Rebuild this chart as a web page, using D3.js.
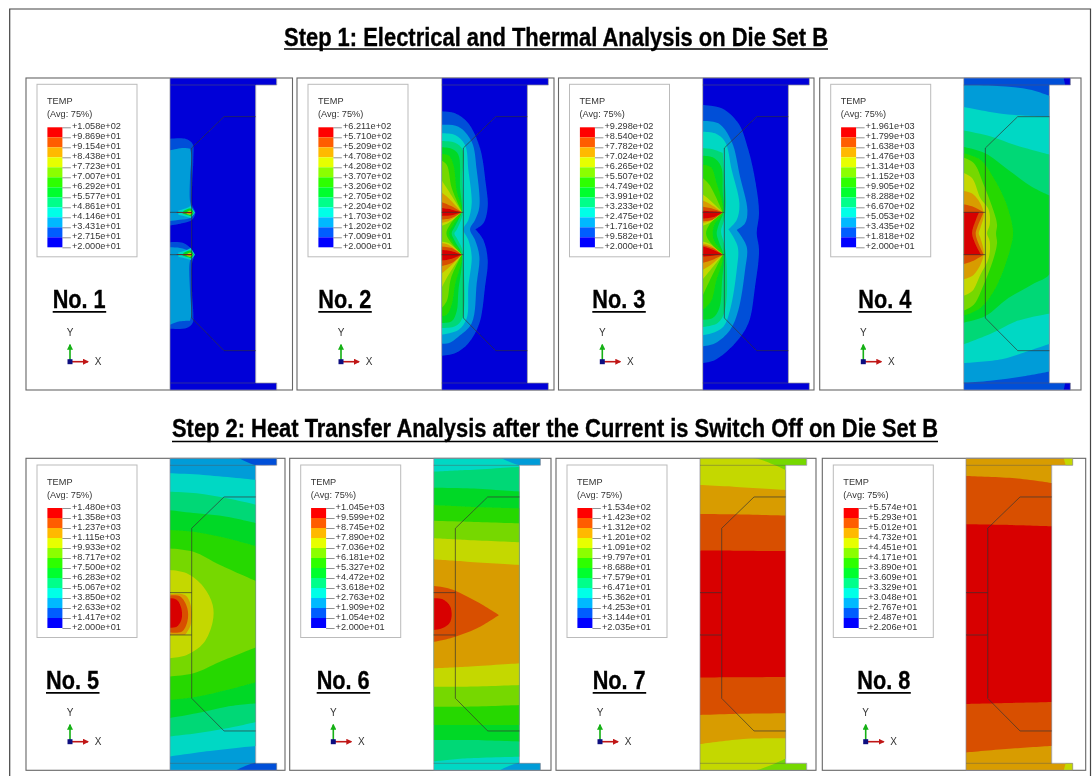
<!DOCTYPE html>
<html>
<head>
<meta charset="utf-8">
<script src="https://cdnjs.cloudflare.com/ajax/libs/d3/7.8.5/d3.min.js"></script>
<style>
	html, body { margin: 0; padding: 0; background: #fff; }
	svg { display: block; }
	text { font-family: "Liberation Sans", Arial, sans-serif; }
	.heavy { font-family: "Liberation Sans Narrow", "Liberation Sans", Arial, sans-serif; font-weight: bold; }
</style>
</head>
<body>
<div id="plot-ui"></div>
<script>
// contour colours, lowest band to highest band
let bandColors = ["#0000d8", "#0050d8", "#009cd8", "#00d8c4", "#00d876", "#00d827", "#27d800", "#76d800", "#c4d800", "#d89c00", "#d85000", "#d80000"];
let legendColors = ["#0000ff", "#005dff", "#00b9ff", "#00ffe7", "#00ff8b", "#00ff2e", "#2eff00", "#8bff00", "#e7ff00", "#ffb900", "#ff5d00", "#ff0000"];

let titles = ["Step 1: Electrical and Thermal Analysis on Die Set B", "Step 2: Heat Transfer Analysis after the Current is Switch Off on Die Set B"];
let panelNames = ["No. 1", "No. 2", "No. 3", "No. 4", "No. 5", "No. 6", "No. 7", "No. 8"];

// legend labels, top to bottom
let temps1 = ["+1.058e+02", "+9.869e+01", "+9.154e+01", "+8.438e+01", "+7.723e+01", "+7.007e+01", "+6.292e+01", "+5.577e+01", "+4.861e+01", "+4.146e+01", "+3.431e+01", "+2.715e+01", "+2.000e+01"];
let temps2 = ["+6.211e+02", "+5.710e+02", "+5.209e+02", "+4.708e+02", "+4.208e+02", "+3.707e+02", "+3.206e+02", "+2.705e+02", "+2.204e+02", "+1.703e+02", "+1.202e+02", "+7.009e+01", "+2.000e+01"];
let temps3 = ["+9.298e+02", "+8.540e+02", "+7.782e+02", "+7.024e+02", "+6.265e+02", "+5.507e+02", "+4.749e+02", "+3.991e+02", "+3.233e+02", "+2.475e+02", "+1.716e+02", "+9.582e+01", "+2.000e+01"];
let temps4 = ["+1.961e+03", "+1.799e+03", "+1.638e+03", "+1.476e+03", "+1.314e+03", "+1.152e+03", "+9.905e+02", "+8.288e+02", "+6.670e+02", "+5.053e+02", "+3.435e+02", "+1.818e+02", "+2.000e+01"];
let temps5 = ["+1.480e+03", "+1.358e+03", "+1.237e+03", "+1.115e+03", "+9.933e+02", "+8.717e+02", "+7.500e+02", "+6.283e+02", "+5.067e+02", "+3.850e+02", "+2.633e+02", "+1.417e+02", "+2.000e+01"];
let temps6 = ["+1.045e+03", "+9.599e+02", "+8.745e+02", "+7.890e+02", "+7.036e+02", "+6.181e+02", "+5.327e+02", "+4.472e+02", "+3.618e+02", "+2.763e+02", "+1.909e+02", "+1.054e+02", "+2.000e+01"];
let temps7 = ["+1.534e+02", "+1.423e+02", "+1.312e+02", "+1.201e+02", "+1.091e+02", "+9.797e+01", "+8.688e+01", "+7.579e+01", "+6.471e+01", "+5.362e+01", "+4.253e+01", "+3.144e+01", "+2.035e+01"];
let temps8 = ["+5.574e+01", "+5.293e+01", "+5.012e+01", "+4.732e+01", "+4.451e+01", "+4.171e+01", "+3.890e+01", "+3.609e+01", "+3.329e+01", "+3.048e+01", "+2.767e+01", "+2.487e+01", "+2.206e+01"];

// die section in model units: full strip, inner die edge, the two pad lines
let stripShape = [[0, 0], [320, 0], [320, 21], [257, 21], [257, 915], [320, 915], [320, 936], [0, 936]];
let dieEdge = [[257, 116], [162, 116], [65, 210], [65, 720], [162, 818], [257, 818]];
let padLevels = [403, 530];

// contours: [band, outline] painted from the base band upward
let contours1 = [
	[1, [[-5, 183], [48, 183], [68, 198], [70, 240], [66, 330], [66, 380], [76, 404], [66, 425], [40, 435], [-5, 443]]],
	[1, [[-5, 493], [40, 495], [66, 515], [73, 530], [66, 555], [66, 640], [70, 710], [68, 735], [50, 750], [-5, 752]]],
	[2, [[-5, 218], [40, 210], [60, 212], [64, 230], [60, 300], [60, 370], [66, 390], [72, 404], [60, 420], [30, 425], [-5, 430]]],
	[2, [[-5, 508], [30, 510], [60, 520], [70, 530], [60, 548], [60, 640], [64, 710], [60, 728], [30, 730], [-5, 742]]],
	[3, [[25, 398], [50, 390], [62, 384], [75, 404], [62, 420], [50, 416], [25, 410]]],
	[3, [[25, 524], [50, 516], [62, 510], [75, 530], [62, 546], [50, 542], [25, 536]]],
	[5, [[40, 399], [55, 392], [64, 392], [71, 404], [64, 416], [55, 412], [40, 408]]],
	[5, [[40, 525], [55, 518], [64, 518], [71, 530], [64, 542], [55, 538], [40, 534]]],
	[8, [[50, 402], [60, 398], [68, 404], [60, 410], [50, 407]]],
	[8, [[50, 528], [60, 524], [68, 530], [60, 536], [50, 533]]],
	[11, [[20, 403], [66, 402], [66, 406], [20, 405]]],
	[11, [[20, 529], [66, 528], [66, 532], [20, 531]]]
];
let contours2 = [
	[1, [[-5, 100], [40, 106], [80, 136], [115, 211], [132, 316], [138, 386], [125, 436], [101, 454], [125, 486], [138, 546], [130, 626], [113, 736], [80, 796], [40, 826], [-5, 834]]],
	[2, [[-5, 141], [50, 146], [90, 191], [105, 276], [113, 386], [100, 426], [85, 454], [100, 486], [113, 536], [105, 616], [90, 736], [50, 776], [20, 796], [-5, 796]]],
	[3, [[-5, 166], [40, 171], [70, 201], [80, 276], [90, 376], [80, 426], [65, 454], [80, 486], [90, 536], [80, 626], [75, 721], [50, 756], [-5, 771]]],
	[4, [[-5, 189], [40, 194], [63, 216], [62, 300], [64, 395], [60, 420], [45, 455], [38, 466], [45, 480], [60, 510], [64, 540], [62, 720], [40, 745], [-5, 750]]],
	[5, [[-5, 208], [30, 212], [50, 230], [55, 330], [60, 400], [40, 445], [30, 466], [40, 490], [60, 530], [50, 640], [45, 700], [30, 730], [-5, 735]]],
	[6, [[-5, 228], [20, 232], [35, 260], [45, 340], [60, 400], [35, 440], [22, 466], [35, 495], [60, 530], [40, 620], [30, 680], [15, 710], [-5, 715]]],
	[7, [[-5, 245], [15, 260], [30, 330], [60, 400], [25, 440], [14, 466], [25, 490], [60, 530], [28, 600], [15, 670], [-5, 695]]],
	[8, [[-5, 300], [15, 330], [60, 402], [20, 435], [-5, 445]]],
	[8, [[-5, 490], [20, 495], [60, 530], [15, 600], [-5, 640]]],
	[9, [[-5, 340], [20, 360], [60, 403], [20, 430], [-5, 435]]],
	[9, [[-5, 495], [20, 500], [60, 530], [20, 570], [-5, 590]]],
	[10, [[-5, 370], [30, 385], [60, 403], [30, 420], [-5, 425]]],
	[10, [[-5, 505], [30, 510], [60, 530], [30, 555], [-5, 565]]],
	[11, [[-5, 390], [30, 395], [58, 403], [30, 412], [-5, 414]]],
	[11, [[-5, 515], [30, 520], [58, 530], [30, 542], [-5, 548]]]
];
let contours3 = [
	[1, [[-5, 81], [57, 91], [107, 136], [137, 216], [159, 316], [169, 406], [162, 466], [169, 516], [157, 626], [137, 736], [97, 796], [37, 846], [-5, 856]]],
	[2, [[-5, 129], [47, 136], [87, 191], [112, 296], [134, 396], [127, 436], [102, 456], [132, 506], [127, 576], [107, 696], [82, 756], [37, 796], [-5, 806]]],
	[3, [[-5, 161], [37, 166], [67, 191], [87, 276], [110, 376], [102, 426], [77, 454], [105, 506], [102, 576], [82, 696], [62, 746], [27, 766], [-5, 773]]],
	[4, [[-5, 210], [30, 214], [60, 225], [65, 290], [70, 380], [63, 430], [55, 460], [65, 500], [72, 560], [66, 700], [45, 735], [-5, 748]]],
	[5, [[-5, 233], [30, 238], [55, 265], [60, 340], [62, 403], [48, 440], [42, 466], [48, 490], [62, 530], [58, 610], [50, 690], [30, 720], [-5, 725]]],
	[6, [[-5, 258], [25, 268], [40, 310], [60, 403], [35, 440], [30, 466], [35, 490], [60, 530], [40, 610], [25, 670], [-5, 700]]],
	[7, [[-5, 295], [20, 320], [60, 403], [20, 440], [10, 466], [20, 490], [60, 530], [20, 610], [-5, 665]]],
	[8, [[-5, 345], [20, 365], [60, 403], [20, 435], [-5, 445]]],
	[8, [[-5, 490], [20, 497], [60, 530], [20, 580], [-5, 610]]],
	[9, [[-5, 365], [25, 380], [60, 403], [20, 430], [-5, 436]]],
	[9, [[-5, 496], [25, 503], [60, 530], [25, 560], [-5, 578]]],
	[10, [[-5, 385], [30, 392], [60, 403], [30, 425], [-5, 430]]],
	[10, [[-5, 500], [30, 510], [60, 530], [30, 545], [-5, 556]]],
	[11, [[-5, 398], [30, 400], [58, 404], [30, 418], [-5, 422]]],
	[11, [[-5, 504], [30, 515], [58, 528], [30, 533], [-5, 536]]]
];
let contours4 = [
	[0, [[299, -4], [325, -4], [325, 25], [305, 25]]],
	[0, [[305, 911], [325, 911], [325, 940], [299, 940]]],
	[2, [[-5, 22], [100, 24], [200, 35], [262, 55], [262, 880], [180, 895], [80, 908], [-5, 914]]],
	[3, [[-5, 86], [74, 101], [154, 111], [262, 116], [262, 796], [174, 826], [114, 844], [-5, 856]]],
	[4, [[-5, 156], [84, 176], [154, 201], [262, 231], [262, 706], [154, 731], [84, 766], [-5, 801]]],
	[5, [[-5, 206], [64, 226], [134, 276], [204, 326], [262, 354], [262, 582], [204, 620], [134, 660], [64, 715], [-5, 735]]],
	[6, [[-5, 225], [50, 245], [90, 300], [125, 370], [147, 450], [147, 480], [125, 560], [90, 640], [50, 690], [-5, 715]]],
	[7, [[-5, 238], [30, 255], [60, 320], [90, 400], [100, 440], [97, 466], [100, 495], [90, 540], [60, 620], [30, 680], [-5, 700]]],
	[8, [[-5, 282], [25, 300], [50, 360], [75, 395], [78, 440], [70, 466], [78, 490], [75, 540], [50, 590], [25, 640], [-5, 655]]],
	[9, [[-5, 338], [30, 350], [60, 403], [50, 450], [45, 466], [50, 480], [60, 530], [30, 590], [-5, 605]]],
	[10, [[-5, 378], [25, 385], [60, 403], [40, 450], [36, 466], [40, 485], [60, 530], [25, 550], [-5, 560]]],
	[11, [[-5, 403], [46, 403], [35, 430], [25, 466], [36, 500], [52, 530], [-5, 530]]]
];
let contours5 = [
	[1, [[200, -4], [325, -4], [325, 20], [255, 20]]],
	[1, [[250, 915], [325, 915], [325, 940], [190, 940]]],
	[3, [[-5, 45], [100, 50], [262, 65], [262, 862], [100, 880], [-5, 895]]],
	[4, [[-5, 100], [80, 105], [170, 120], [262, 140], [262, 790], [170, 810], [80, 825], [-5, 835]]],
	[5, [[-5, 155], [80, 165], [170, 175], [262, 195], [262, 735], [170, 745], [80, 765], [-5, 780]]],
	[6, [[-5, 215], [80, 222], [170, 240], [262, 265], [262, 670], [170, 695], [80, 715], [-5, 725]]],
	[7, [[-5, 270], [70, 280], [150, 320], [262, 370], [262, 565], [150, 610], [70, 645], [-5, 655]]],
	[8, [[-5, 335], [50, 345], [100, 385], [128, 440], [128, 490], [100, 555], [50, 590], [-5, 600]]],
	[9, [[-5, 408], [45, 410], [62, 440], [62, 500], [45, 530], [-5, 530]]],
	[10, [[-5, 412], [30, 414], [52, 450], [52, 490], [35, 520], [-5, 522]]],
	[11, [[-5, 420], [20, 424], [34, 450], [34, 485], [20, 505], [-5, 508]]]
];
let contours6 = [
	[2, [[195, -4], [325, -4], [325, 20], [255, 20]]],
	[2, [[250, 915], [325, 915], [325, 940], [190, 940]]],
	[4, [[-5, 40], [100, 35], [262, 25], [262, 895], [100, 900], [-5, 910]]],
	[5, [[-5, 88], [100, 90], [262, 100], [262, 850], [100, 845], [-5, 845]]],
	[6, [[-5, 140], [100, 145], [262, 150], [262, 800], [100, 800], [-5, 800]]],
	[7, [[-5, 187], [100, 190], [262, 195], [262, 740], [100, 745], [-5, 745]]],
	[8, [[-5, 240], [100, 245], [262, 252], [262, 680], [100, 685], [-5, 685]]],
	[9, [[-5, 303], [100, 310], [262, 320], [262, 615], [100, 625], [-5, 630]]],
	[10, [[-5, 382], [50, 392], [130, 430], [196, 470], [130, 510], [50, 540], [-5, 552]]],
	[11, [[-5, 420], [25, 422], [50, 445], [50, 490], [25, 510], [-5, 515]]]
];
let contours7 = [
	[8, [[-5, -5], [165, 0], [262, 38], [262, 898], [165, 936], [-5, 941]]],
	[9, [[-5, 80], [100, 85], [262, 95], [262, 840], [130, 842], [-5, 858]]],
	[10, [[-5, 167], [100, 168], [262, 172], [262, 765], [100, 767], [-5, 770]]],
	[11, [[-5, 277], [100, 277], [262, 278], [262, 656], [100, 657], [-5, 658]]]
];
let contours8 = [
	[8, [[292, -4], [325, -4], [325, 25], [300, 25]]],
	[8, [[300, 911], [325, 911], [325, 940], [292, 940]]],
	[10, [[-5, 53], [147, 60], [262, 75], [262, 862], [147, 870], [-5, 883]]],
	[11, [[-5, 198], [130, 200], [262, 204], [262, 731], [130, 734], [-5, 737]]]
];

let allTemps = [temps1, temps2, temps3, temps4, temps5, temps6, temps7, temps8];
let allContours = [contours1, contours2, contours3, contours4, contours5, contours6, contours7, contours8];
let baseBands = [0, 0, 0, 1, 2, 3, 7, 9];

// page layout, in pixels
let frames = [
	{ left: 26, right: 292.5, top: 78, strip: 170, name: 52.7, tri: 70 },
	{ left: 297, right: 554, top: 78, strip: 441.7, name: 318.3, tri: 341 },
	{ left: 558.5, right: 814, top: 78, strip: 702.7, name: 592.3, tri: 602.3 },
	{ left: 819.7, right: 1081, top: 78, strip: 963.7, name: 858.3, tri: 863.3 },
	{ left: 26, right: 285, top: 458.3, strip: 170, name: 46, tri: 70 },
	{ left: 289.7, right: 551, top: 458.3, strip: 433.7, name: 316.7, tri: 333.3 },
	{ left: 556, right: 816, top: 458.3, strip: 700, name: 592.7, tri: 600 },
	{ left: 822.3, right: 1085.7, top: 458.3, strip: 966, name: 857.3, tri: 865.7 }
];
let frameHeight = 312;

let svgRoot = d3.select('#plot-ui').append('svg')
	.attr('width', 1092)
	.attr('height', 776);

let defs = svgRoot.append('defs');
defs.append('filter').attr('id', 'soft')
	.attr('x', 0).attr('y', 0).attr('width', 1092).attr('height', 776)
	.attr('filterUnits', 'userSpaceOnUse')
	.append('feGaussianBlur').attr('stdDeviation', 0.5);

let marker = function(id, color) {
	defs.append('marker').attr('id', id)
		.attr('viewBox', '0 0 6 6').attr('refX', 5).attr('refY', 3)
		.attr('markerWidth', 6).attr('markerHeight', 6).attr('orient', 'auto')
		.attr('markerUnits', 'userSpaceOnUse')
		.append('path').attr('d', 'M0,0L6,3L0,6Z').attr('fill', color);
};
marker('arrow-x', '#c01818');
marker('arrow-y', '#12b012');

let svg = svgRoot.append('g').attr('filter', 'url(#soft)');

// page border runs off the bottom of the picture
svg.append('path')
	.attr('d', 'M9.7,790V9H1090.5V790')
	.attr('fill', 'none').attr('stroke', '#444').attr('stroke-width', 1.2);

// model units to pixels
let x = d3.scaleLinear().domain([0, 320]).range([0, 106.7]);
let y = d3.scaleLinear().domain([0, 936]).range([0, frameHeight]);

let band = d3.line()
	.x(function(d) { return x(d[0]); })
	.y(function(d) { return y(d[1]); })
	.curve(d3.curveCatmullRomClosed.alpha(0.5));
let straight = d3.line()
	.x(function(d) { return x(d[0]); })
	.y(function(d) { return y(d[1]); });

// a repeated point keeps a hard corner in the closed curve
function keepCorners(pts) {
	let out = [];
	pts.forEach(function(p, i) {
		let a = pts[(i + pts.length - 1) % pts.length];
		let b = pts[(i + 1) % pts.length];
		let turn = Math.abs(Math.atan2(b[1] - p[1], b[0] - p[0]) - Math.atan2(p[1] - a[1], p[0] - a[0]));
		if (turn > Math.PI) turn = 2 * Math.PI - turn;
		out.push(p);
		if (turn > 1.05) out.push(p);
	});
	return out;
}

// legend scales
let legendTicks = d3.scalePoint().domain(d3.range(13)).range([0, 120]);
let legendBands = d3.scaleBand().domain(d3.range(12)).range([0, 120]);

frames.forEach(function(f, i) {
	let p = svg.append('g');

	p.append('rect')
		.attr('x', f.left).attr('y', f.top)
		.attr('width', f.right - f.left).attr('height', frameHeight)
		.attr('fill', '#fff').attr('stroke', '#666').attr('stroke-width', 1.1);

	// contour strip
	let strip = p.append('g').attr('transform', 'translate(' + f.strip + ',' + f.top + ')');
	defs.append('clipPath').attr('id', 'strip' + i)
		.append('path').attr('d', straight(stripShape) + 'Z');

	let bands = strip.append('g').attr('clip-path', 'url(#strip' + i + ')');
	bands.append('path')
		.attr('d', straight(stripShape) + 'Z')
		.attr('fill', bandColors[baseBands[i]]);
	bands.selectAll('.band')
		.data(allContours[i])
		.enter().append('path').classed('band', true)
		.attr('d', function(d) { return band(keepCorners(d[1])); })
		.attr('fill', function(d) { return bandColors[d[0]]; });

	// model edges and die outline
	strip.append('path')
		.attr('d', straight(stripShape) + 'Z')
		.attr('fill', 'none').attr('stroke', '#8a8a9a').attr('stroke-width', 0.7);
	strip.selectAll('.flange')
		.data([21, 915])
		.enter().append('line').classed('flange', true)
		.attr('x1', x(0)).attr('x2', x(257))
		.attr('y1', function(d) { return y(d); })
		.attr('y2', function(d) { return y(d); })
		.attr('stroke', '#555').attr('stroke-opacity', 0.55).attr('stroke-width', 0.8);
	strip.append('path')
		.attr('d', straight(dieEdge))
		.attr('fill', 'none').attr('stroke', '#333').attr('stroke-opacity', 0.75).attr('stroke-width', 0.9);
	strip.selectAll('.pad')
		.data(padLevels)
		.enter().append('line').classed('pad', true)
		.attr('x1', x(0)).attr('x2', x(65))
		.attr('y1', function(d) { return y(d); })
		.attr('y2', function(d) { return y(d); })
		.attr('stroke', '#333').attr('stroke-opacity', 0.75).attr('stroke-width', 0.9);

	// legend
	let bx = f.left + 11;
	let by = f.top + (i < 4 ? 6.3 : 6.7);
	p.append('rect')
		.attr('x', bx).attr('y', by).attr('width', 100).attr('height', 172.5)
		.attr('fill', '#fff').attr('stroke', '#bbb').attr('stroke-width', 1);
	p.append('text').attr('x', bx + 10).attr('y', by + 20)
		.attr('font-size', 9.2).attr('fill', '#333').text('TEMP');
	p.append('text').attr('x', bx + 10).attr('y', by + 33)
		.attr('font-size', 9.2).attr('fill', '#333').text('(Avg: 75%)');

	let lg = p.append('g').attr('transform', 'translate(' + (bx + 10.4) + ',' + (by + 43) + ')');
	lg.selectAll('rect')
		.data(legendColors.slice().reverse())
		.enter().append('rect')
		.attr('x', 0).attr('width', 15)
		.attr('y', function(d, k) { return legendBands(k); })
		.attr('height', legendBands.bandwidth())
		.attr('fill', function(d) { return d; });

	let temps = allTemps[i];
	let tickAxis = d3.axisRight(legendTicks)
		.tickSize(8.5).tickPadding(1)
		.tickFormat(function(k) { return temps[k]; });
	lg.append('g')
		.attr('transform', 'translate(15,0)')
		.call(tickAxis)
		.call(function(g) {
			g.select('.domain').remove();
			g.selectAll('line').attr('stroke', '#777').attr('stroke-width', 0.8);
			g.selectAll('text')
				.attr('font-size', 9.2).attr('fill', '#333')
				.attr('y', -1.3)
				.attr('font-family', '"Liberation Sans", Arial, sans-serif');
		});

	// panel number
	let baseY = i < 4 ? 308.3 : 689.3;
	p.append('text').classed('heavy', true)
		.attr('x', f.name).attr('y', baseY)
		.attr('font-size', 26).attr('fill', '#000')
		.attr('stroke', '#000').attr('stroke-width', 0.35)
		.attr('textLength', 53).attr('lengthAdjust', 'spacingAndGlyphs')
		.text(panelNames[i]);
	p.append('line')
		.attr('x1', f.name).attr('x2', f.name + 53.5)
		.attr('y1', baseY + 3.6).attr('y2', baseY + 3.6)
		.attr('stroke', '#000').attr('stroke-width', 1.8);

	// axis triad
	let oy = i < 4 ? 361.7 : 741.7;
	p.append('line')
		.attr('x1', f.tri).attr('y1', oy).attr('x2', f.tri + 18).attr('y2', oy)
		.attr('stroke', '#c01818').attr('stroke-width', 1.6).attr('marker-end', 'url(#arrow-x)');
	p.append('line')
		.attr('x1', f.tri).attr('y1', oy).attr('x2', f.tri).attr('y2', oy - 17)
		.attr('stroke', '#12b012').attr('stroke-width', 1.6).attr('marker-end', 'url(#arrow-y)');
	p.append('rect')
		.attr('x', f.tri - 2.5).attr('y', oy - 2.5).attr('width', 5).attr('height', 5)
		.attr('fill', '#101080');
	p.append('text').attr('x', f.tri).attr('y', oy - 25.5)
		.attr('text-anchor', 'middle').attr('font-size', 10).attr('fill', '#333').text('Y');
	p.append('text').attr('x', f.tri + 28).attr('y', oy + 3.5)
		.attr('text-anchor', 'middle').attr('font-size', 10).attr('fill', '#333').text('X');
});

// step headings
let heads = [
	{ x1: 284, x2: 828, base: 45.5, line: 49 },
	{ x1: 172, x2: 938, base: 437, line: 441.5 }
];
heads.forEach(function(h, i) {
	svg.append('text').classed('heavy', true)
		.attr('x', h.x1).attr('y', h.base)
		.attr('font-size', 25).attr('fill', '#000')
		.attr('stroke', '#000').attr('stroke-width', 0.35)
		.attr('textLength', h.x2 - h.x1).attr('lengthAdjust', 'spacingAndGlyphs')
		.text(titles[i]);
	svg.append('line')
		.attr('x1', h.x1).attr('x2', h.x2)
		.attr('y1', h.line).attr('y2', h.line)
		.attr('stroke', '#000').attr('stroke-width', 1.6);
});
</script>
</body>
</html>
